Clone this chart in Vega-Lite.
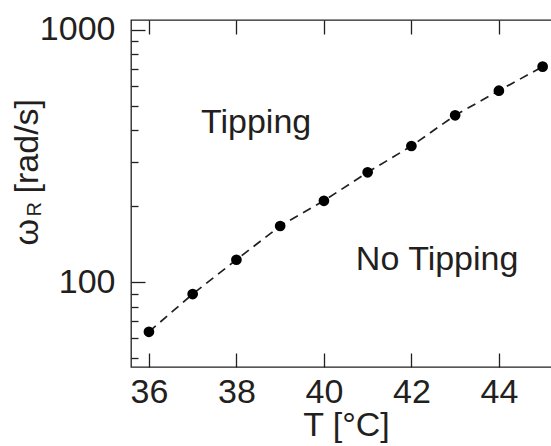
{
  "$schema": "https://vega.github.io/schema/vega-lite/v6.json",
  "autosize": "none",
  "padding": {"left": 131, "top": 20, "right": 0, "bottom": 79},
  "width": 430,
  "height": 347,
  "config": {
    "view": {"stroke": "#231f20", "strokeWidth": 1.3},
    "font": "Liberation Sans",
    "axis": {
      "labelFont": "Liberation Sans",
      "titleFont": "Liberation Sans",
      "labelFontSize": 34,
      "titleFontSize": 34,
      "titleFontWeight": "normal",
      "labelColor": "#231f20",
      "titleColor": "#231f20",
      "tickColor": "#231f20",
      "tickWidth": 1.3,
      "domain": false,
      "grid": false,
      "labelFlush": false,
      "labelOverlap": false,
      "ticks": true
    }
  },
  "datasets": {
    "curve": [
      {"T": 36, "w": 63.7},
      {"T": 37, "w": 89.9},
      {"T": 38, "w": 122.9},
      {"T": 39, "w": 167.2},
      {"T": 40, "w": 210.5},
      {"T": 41, "w": 272.9},
      {"T": 42, "w": 346.9},
      {"T": 43, "w": 459.1},
      {"T": 44, "w": 574.6},
      {"T": 45, "w": 715.4}
    ],
    "notes": [
      {"T": 37.19, "w": 390.7, "label": "Tipping"},
      {"T": 40.73, "w": 111.7, "label": "No Tipping"}
    ]
  },
  "layer": [
    {
      "data": {"name": "curve"},
      "mark": {"type": "line", "color": "#231f20", "strokeWidth": 1.7, "strokeDash": [9, 6]},
      "encoding": {
        "x": {
          "field": "T", "type": "quantitative",
          "scale": {"domain": [35.59, 45.42], "nice": false, "zero": false},
          "axis": {
            "orient": "bottom",
            "offset": -14,
            "tickSize": 14,
            "values": [36, 38, 40, 42, 44],
            "format": "d",
            "labelPadding": 8,
            "title": "T [°C]",
            "titleY": 82,
            "titleBaseline": "alphabetic"
          }
        },
        "y": {
          "field": "w", "type": "quantitative",
          "scale": {"type": "log", "domain": [46.2, 1095], "nice": false},
          "axis": {
            "orient": "left",
            "offset": -14,
            "tickSize": 14,
            "values": [100, 1000],
            "labelExpr": "datum.value == 100 ? '100' : datum.value == 1000 ? '1000' : ''",
            "labelPadding": 16,
            "title": "ω\u2002\u2005[rad/s]",
            "titleAngle": -90,
            "titleAlign": "left",
            "titleBaseline": "alphabetic",
            "titleX": -108,
            "titleY": 225
          }
        }
      }
    },
    {
      "data": {"name": "curve"},
      "mark": {"type": "point", "filled": true, "color": "#000000", "opacity": 1, "size": 115},
      "encoding": {
        "x": {
          "field": "T", "type": "quantitative",
          "scale": {"domain": [35.59, 45.42], "nice": false, "zero": false},
          "axis": {
            "orient": "top",
            "offset": -14,
            "tickSize": 14,
            "values": [36, 38, 40, 42, 44],
            "labels": false,
            "title": null
          }
        },
        "y": {
          "field": "w", "type": "quantitative",
          "scale": {"type": "log", "domain": [46.2, 1095], "nice": false},
          "axis": {
            "orient": "right",
            "offset": -430,
            "tickSize": 7,
            "values": [50, 60, 70, 80, 90, 200, 300, 400, 500, 600, 700, 800, 900],
            "labels": false,
            "title": "R",
            "titleFontSize": 20,
            "titleAngle": -90,
            "titleAlign": "left",
            "titleBaseline": "alphabetic",
            "titleX": -91,
            "titleY": 196
          }
        }
      }
    },
    {
      "data": {"name": "notes"},
      "mark": {"type": "text", "font": "Liberation Sans", "fontSize": 34, "color": "#231f20", "align": "left", "baseline": "alphabetic"},
      "encoding": {
        "x": {"field": "T", "type": "quantitative", "scale": {"domain": [35.59, 45.42], "nice": false, "zero": false}, "axis": null},
        "y": {"field": "w", "type": "quantitative", "scale": {"type": "log", "domain": [46.2, 1095], "nice": false}, "axis": null},
        "text": {"field": "label", "type": "nominal"}
      }
    }
  ]
}
